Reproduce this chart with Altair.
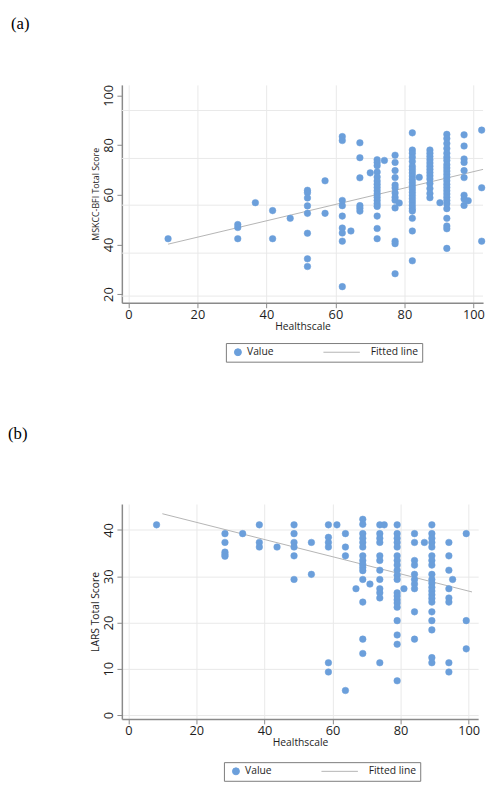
import altair as alt
import pandas as pd

# ---------------- Panel (a): MSKCC-BFI vs Healthscale ----------------
a_x_levels = [11.5, 31.7, 36.8, 41.8, 46.9, 51.9, 57.0, 62.0, 64.5, 67.1, 70.1,
              72.1, 74.2, 77.3, 78.5, 82.3, 84.3, 87.4, 90.3, 92.3, 97.3, 98.5, 102.4]
a_y_by_level = [
    [42.3],
    [48.0, 46.8, 42.3],
    [56.8],
    [53.6, 42.3],
    [50.5],
    [61.8, 60.8, 58.7, 55.5, 52.5, 44.5, 34.2, 31.1],
    [65.6, 52.5],
    [83.4, 81.8, 57.7, 55.6, 51.4, 46.6, 44.6, 41.3, 23.0],
    [45.4],
    [80.9, 74.9, 66.8, 55.6, 54.6, 53.4],
    [68.8],
    [74.1, 73.0, 71.7, 69.1, 67.1, 65.5, 64.2, 62.9, 61.6, 60.3, 59.0, 57.7, 56.4, 55.3, 51.4, 46.4, 42.3],
    [73.8],
    [75.9, 73.0, 69.7, 66.9, 63.9, 62.7, 60.7, 59.0, 57.8, 54.7, 41.3, 40.3, 28.2],
    [56.7],
    [84.9, 78.0, 76.7, 75.1, 73.4, 71.4, 70.1, 68.8, 67.5, 66.2, 64.9, 63.6, 62.3, 61.0,
     59.7, 58.4, 57.1, 55.7, 54.4, 53.4, 50.5, 45.4, 33.4],
    [67.0],
    [78.0, 76.7, 75.4, 74.1, 72.8, 71.5, 70.2, 68.9, 67.6, 66.3, 64.5, 62.5, 60.5, 58.8],
    [56.8],
    [84.3, 82.6, 80.6, 78.6, 76.7, 75.1, 73.8, 72.1, 70.8, 69.5, 68.2, 66.9, 65.6, 64.2,
     62.9, 61.6, 60.3, 59.0, 57.7, 56.4, 54.4, 50.5, 47.4, 46.3, 38.4],
    [84.1, 79.6, 74.4, 73.0, 69.7, 66.9, 59.8, 58.3, 55.7],
    [57.6],
    [86.0, 62.8, 41.3],
]
a_fit_x = [11.5, 102.8]
a_fit_y = [40.1, 70.2]
a_grid_y = [19.2, 36.5, 55.8, 74.6, 93.9]

# ---------------- Panel (b): LARS vs Healthscale ----------------
b_x_levels = [8.3, 28.4, 33.6, 38.5, 43.7, 48.7, 53.8, 58.8, 61.3, 63.8, 66.9, 68.9,
              71.0, 73.9, 75.2, 79.0, 81.0, 84.1, 87.0, 89.2, 94.2, 95.3, 99.3]
b_y_by_level = [
    [41.1],
    [39.2, 37.3, 35.2, 34.7, 34.3],
    [39.2],
    [41.1, 37.3, 36.3],
    [36.3],
    [41.1, 39.2, 37.3, 36.3, 34.4, 29.3],
    [37.3, 30.4],
    [41.1, 38.4, 37.3, 36.3, 11.3, 9.3],
    [41.1],
    [39.2, 36.3, 34.4, 5.3],
    [27.3],
    [42.3, 41.2, 39.2, 38.2, 37.3, 36.3, 34.4, 33.4, 32.6, 31.9, 31.2, 29.3, 24.4, 16.4, 13.3],
    [28.3],
    [41.1, 39.2, 38.2, 37.3, 34.4, 33.4, 31.3, 29.3, 27.3, 26.4, 25.3, 11.3],
    [41.1],
    [41.1, 39.2, 38.2, 37.3, 36.3, 34.4, 33.4, 32.4, 31.3, 30.2, 29.3, 26.4, 25.7, 24.9,
     24.2, 23.3, 20.4, 17.3, 15.3, 7.4],
    [27.3],
    [39.2, 37.3, 33.4, 32.4, 30.4, 29.3, 28.3, 27.3, 22.3, 16.4],
    [37.3],
    [41.1, 39.2, 38.2, 37.3, 36.3, 34.4, 33.4, 32.4, 30.4, 29.3, 28.5, 27.6, 26.8, 26.0,
     25.2, 24.4, 22.3, 20.4, 18.4, 12.4, 11.3],
    [37.3, 34.4, 31.3, 27.3, 25.3, 24.4, 11.3, 9.3],
    [29.3],
    [39.2, 20.4, 14.3],
]
b_fit_x = [10.0, 101.0]
b_fit_y = [43.5, 26.6]

series_names = ["Value", "Fitted line"]

POINT = "#6b9fdb"
LINE = "#b4b4b4"
GRID = "#e9e9e9"
AXIS = "#8a8a8a"
TXT = "#1e1e1e"
FONT = "Open Sans"
# legend glyph for the fitted line: a horizontal stroke drawn to the left of its label
LINE_GLYPH = "M-11,0L-0.5,0"


def points_df(levels, ys):
    rows = []
    for x, col in zip(levels, ys):
        for y in col:
            rows.append({"health": x, "score": y, "series": "Value"})
    return pd.DataFrame(rows)


def panel(levels, ys, fit_x, fit_y, ydom, yvals, ytitle, ytitle_size, label, w, h,
          legend_xy, title_dx, title_offset, grid_y=None):
    xscale = alt.Scale(domain=[-1.9, 102.8], nice=False, zero=False)
    yscale = alt.Scale(domain=ydom, nice=False, zero=False)
    xaxis = alt.Axis(values=[0, 20, 40, 60, 80, 100], title="Healthscale", grid=True,
                     gridColor=GRID, domainColor=AXIS, domainWidth=1.5, tickColor=AXIS,
                     tickSize=5, labelFont=FONT, labelFontSize=13, labelColor=TXT,
                     titleFont=FONT, titleFontSize=10.5, titleFontWeight="normal",
                     titleColor=TXT, labelPadding=1, titlePadding=0)
    yaxis = alt.Axis(values=yvals, title=ytitle, grid=grid_y is None, gridColor=GRID,
                     domainColor=AXIS, domainWidth=1.5, tickColor=AXIS, tickSize=5,
                     labelFont=FONT, labelFontSize=13, labelColor=TXT, labelAngle=270,
                     labelAlign="center", labelBaseline="bottom", labelPadding=2,
                     titleFont=FONT, titleFontSize=ytitle_size, titleFontWeight="normal",
                     titleColor=TXT, titlePadding=2)

    pts = points_df(levels, ys)
    fit = pd.DataFrame({"health": fit_x, "score": fit_y})

    legend = alt.Legend(title=None, orient="none", legendX=legend_xy[0], legendY=legend_xy[1],
                        direction="horizontal", strokeColor="#7a7a7a", padding=4,
                        labelFont=FONT, labelFontSize=10.5, labelColor=TXT,
                        columnPadding=48, symbolStrokeWidth=1, labelOffset=4,
                        symbolOffset=3, symbolSize=50)

    cscale = alt.Scale(domain=series_names, range=[POINT, LINE])
    point_layer = alt.Chart(pts).mark_point(filled=True, opacity=1, strokeWidth=0.5,
                                            size=45).encode(
        x=alt.X("health:Q", scale=xscale, axis=xaxis),
        y=alt.Y("score:Q", scale=yscale, axis=yaxis),
        color=alt.Color("series:N", scale=cscale, legend=legend),
        stroke=alt.Stroke("series:N", scale=cscale, legend=legend),
        shape=alt.Shape("series:N", scale=alt.Scale(domain=series_names, range=["circle", LINE_GLYPH]),
                        legend=legend),
    )
    line_layer = alt.Chart(fit).mark_line(color=LINE, strokeWidth=1).encode(
        x="health:Q", y="score:Q"
    )
    layers = []
    if grid_y is not None:
        gdf = pd.DataFrame({"g": grid_y})
        layers.append(alt.Chart(gdf).mark_rule(color=GRID, strokeWidth=1).encode(y="g:Q"))
    layers += [line_layer, point_layer]
    return alt.layer(*layers).properties(
        width=w, height=h,
        title=alt.TitleParams(label, anchor="start", frame="group", dx=title_dx,
                              offset=title_offset, font="Liberation Serif", fontSize=17,
                              fontWeight="normal", color="black"),
    )


pa = panel(a_x_levels, a_y_by_level, a_fit_x, a_fit_y, [16.5, 104.2], [20, 40, 60, 80, 100],
           "MSKCC-BFI Total Score", 9, "(a)", 368, 222, (106, 263), -113, 52, grid_y=a_grid_y)
pb = panel(b_x_levels, b_y_by_level, b_fit_x, b_fit_y, [-0.85, 45.6], [0, 10, 20, 30, 40],
           "LARS Total Score", 10.5, "(b)", 363, 219, (104, 263), -116, 62)

chart = alt.vconcat(pa, pb, spacing=64).resolve_scale(
    color="independent", stroke="independent", shape="independent",
    x="independent", y="independent"
).resolve_legend(
    color="independent", stroke="independent", shape="independent"
).properties(padding=0).configure_view(stroke=None)

chart.save("out.html", embed_options={"renderer": "svg", "actions": False})
